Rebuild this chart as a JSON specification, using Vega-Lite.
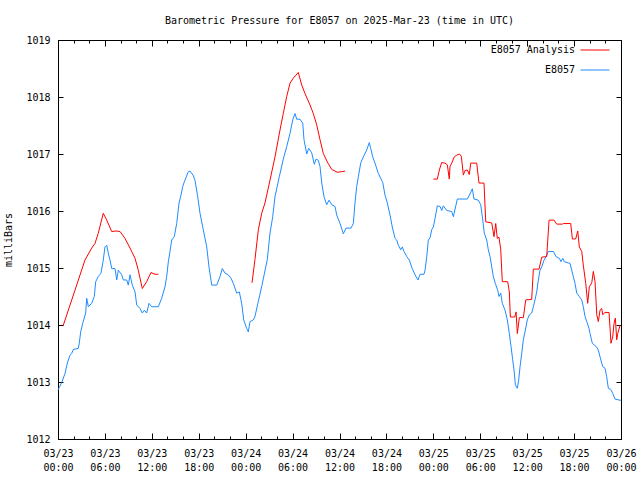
{
"$schema":"https://vega.github.io/schema/vega-lite/v6.json",
"width":563,"height":399,
"autosize":{"type":"none"},
"padding":{"left":58,"top":40,"right":19,"bottom":41},
"background":"white",
"title":{"text":"Barometric Pressure for E8057 on 2025-Mar-23 (time in UTC)","font":"DejaVu Sans Mono","fontSize":10,"fontWeight":"normal","color":"black","offset":9,"anchor":"middle"},
"config":{
 "view":{"stroke":"black","strokeWidth":1},
 "axis":{"grid":false,"domainColor":"black","tickColor":"black","labelColor":"black","titleColor":"black","labelFont":"DejaVu Sans Mono","labelFontSize":10,"titleFont":"DejaVu Sans Mono","titleFontSize":10,"titleFontWeight":"normal","labelFlush":false}
},
"datasets":{
"obs":[
{"series":"E8057","seg":"b","hour":0,"mb":1012.86},{"series":"E8057","seg":"b","hour":0.47,"mb":1012.99},{"series":"E8057","seg":"b","hour":0.9,"mb":1013.15},{"series":"E8057","seg":"b","hour":1.19,"mb":1013.33},{"series":"E8057","seg":"b","hour":1.53,"mb":1013.47},{"series":"E8057","seg":"b","hour":1.75,"mb":1013.5},{"series":"E8057","seg":"b","hour":1.96,"mb":1013.57},{"series":"E8057","seg":"b","hour":2.6,"mb":1013.59},{"series":"E8057","seg":"b","hour":2.72,"mb":1013.68},{"series":"E8057","seg":"b","hour":2.9,"mb":1013.88},
{"series":"E8057","seg":"b","hour":3.16,"mb":1014.03},{"series":"E8057","seg":"b","hour":3.54,"mb":1014.21},{"series":"E8057","seg":"b","hour":3.67,"mb":1014.47},{"series":"E8057","seg":"b","hour":3.88,"mb":1014.32},{"series":"E8057","seg":"b","hour":4.31,"mb":1014.38},{"series":"E8057","seg":"b","hour":4.64,"mb":1014.5},{"series":"E8057","seg":"b","hour":4.82,"mb":1014.76},{"series":"E8057","seg":"b","hour":5.15,"mb":1014.85},{"series":"E8057","seg":"b","hour":5.5,"mb":1014.91},{"series":"E8057","seg":"b","hour":5.79,"mb":1015.14},
{"series":"E8057","seg":"b","hour":6.01,"mb":1015.37},{"series":"E8057","seg":"b","hour":6.23,"mb":1015.4},{"series":"E8057","seg":"b","hour":6.43,"mb":1015.26},{"series":"E8057","seg":"b","hour":6.65,"mb":1015.14},{"series":"E8057","seg":"b","hour":6.87,"mb":1014.99},{"series":"E8057","seg":"b","hour":7.29,"mb":1014.99},{"series":"E8057","seg":"b","hour":7.51,"mb":1014.79},{"series":"E8057","seg":"b","hour":7.71,"mb":1014.96},{"series":"E8057","seg":"b","hour":8.15,"mb":1014.88},{"series":"E8057","seg":"b","hour":8.35,"mb":1014.79},
{"series":"E8057","seg":"b","hour":8.79,"mb":1014.79},{"series":"E8057","seg":"b","hour":8.99,"mb":1014.7},{"series":"E8057","seg":"b","hour":9.21,"mb":1014.88},{"series":"E8057","seg":"b","hour":9.5,"mb":1014.7},{"series":"E8057","seg":"b","hour":9.85,"mb":1014.58},{"series":"E8057","seg":"b","hour":10.07,"mb":1014.35},{"series":"E8057","seg":"b","hour":10.49,"mb":1014.29},{"series":"E8057","seg":"b","hour":10.78,"mb":1014.21},{"series":"E8057","seg":"b","hour":11.04,"mb":1014.26},{"series":"E8057","seg":"b","hour":11.34,"mb":1014.21},
{"series":"E8057","seg":"b","hour":11.64,"mb":1014.38},{"series":"E8057","seg":"b","hour":11.98,"mb":1014.32},{"series":"E8057","seg":"b","hour":12.83,"mb":1014.32},{"series":"E8057","seg":"b","hour":13.26,"mb":1014.47},{"series":"E8057","seg":"b","hour":13.68,"mb":1014.67},{"series":"E8057","seg":"b","hour":13.9,"mb":1014.85},{"series":"E8057","seg":"b","hour":14.11,"mb":1015.11},{"series":"E8057","seg":"b","hour":14.32,"mb":1015.29},{"series":"E8057","seg":"b","hour":14.54,"mb":1015.49},{"series":"E8057","seg":"b","hour":14.87,"mb":1015.55},
{"series":"E8057","seg":"b","hour":15.18,"mb":1015.78},{"series":"E8057","seg":"b","hour":15.48,"mb":1016.14},{"series":"E8057","seg":"b","hour":15.73,"mb":1016.28},{"series":"E8057","seg":"b","hour":15.95,"mb":1016.43},{"series":"E8057","seg":"b","hour":16.15,"mb":1016.51},{"series":"E8057","seg":"b","hour":16.63,"mb":1016.68},{"series":"E8057","seg":"b","hour":16.88,"mb":1016.7},{"series":"E8057","seg":"b","hour":17.27,"mb":1016.63},{"series":"E8057","seg":"b","hour":17.52,"mb":1016.54},{"series":"E8057","seg":"b","hour":17.87,"mb":1016.25},
{"series":"E8057","seg":"b","hour":18.16,"mb":1015.96},{"series":"E8057","seg":"b","hour":18.58,"mb":1015.67},{"series":"E8057","seg":"b","hour":19.02,"mb":1015.37},{"series":"E8057","seg":"b","hour":19.31,"mb":1015.02},{"series":"E8057","seg":"b","hour":19.66,"mb":1014.7},{"series":"E8057","seg":"b","hour":20.3,"mb":1014.7},{"series":"E8057","seg":"b","hour":20.72,"mb":1014.85},{"series":"E8057","seg":"b","hour":21.01,"mb":1014.99},{"series":"E8057","seg":"b","hour":21.36,"mb":1014.91},{"series":"E8057","seg":"b","hour":21.78,"mb":1014.88},
{"series":"E8057","seg":"b","hour":22.13,"mb":1014.82},{"series":"E8057","seg":"b","hour":22.42,"mb":1014.73},{"series":"E8057","seg":"b","hour":22.85,"mb":1014.56},{"series":"E8057","seg":"b","hour":23.19,"mb":1014.58},{"series":"E8057","seg":"b","hour":23.49,"mb":1014.38},{"series":"E8057","seg":"b","hour":23.75,"mb":1014.09},{"series":"E8057","seg":"b","hour":24.13,"mb":1013.94},{"series":"E8057","seg":"b","hour":24.34,"mb":1013.88},{"series":"E8057","seg":"b","hour":24.56,"mb":1014.06},{"series":"E8057","seg":"b","hour":24.98,"mb":1014.09},
{"series":"E8057","seg":"b","hour":25.19,"mb":1014.15},{"series":"E8057","seg":"b","hour":25.58,"mb":1014.39},{"series":"E8057","seg":"b","hour":26.09,"mb":1014.7},{"series":"E8057","seg":"b","hour":26.77,"mb":1015.15},{"series":"E8057","seg":"b","hour":27.11,"mb":1015.61},{"series":"E8057","seg":"b","hour":27.46,"mb":1015.9},{"series":"E8057","seg":"b","hour":27.75,"mb":1016.25},{"series":"E8057","seg":"b","hour":28.3,"mb":1016.6},{"series":"E8057","seg":"b","hour":28.81,"mb":1016.91},{"series":"E8057","seg":"b","hour":29.25,"mb":1017.13},
{"series":"E8057","seg":"b","hour":29.67,"mb":1017.36},{"series":"E8057","seg":"b","hour":30.02,"mb":1017.6},{"series":"E8057","seg":"b","hour":30.31,"mb":1017.71},{"series":"E8057","seg":"b","hour":30.53,"mb":1017.61},{"series":"E8057","seg":"b","hour":30.95,"mb":1017.61},{"series":"E8057","seg":"b","hour":31.3,"mb":1017.54},{"series":"E8057","seg":"b","hour":31.46,"mb":1017.25},{"series":"E8057","seg":"b","hour":31.81,"mb":1017.0},{"series":"E8057","seg":"b","hour":32.06,"mb":1017.1},{"series":"E8057","seg":"b","hour":32.45,"mb":1017.02},
{"series":"E8057","seg":"b","hour":32.78,"mb":1016.82},{"series":"E8057","seg":"b","hour":33.0,"mb":1016.91},{"series":"E8057","seg":"b","hour":33.29,"mb":1016.89},{"series":"E8057","seg":"b","hour":33.51,"mb":1016.78},{"series":"E8057","seg":"b","hour":33.73,"mb":1016.49},{"series":"E8057","seg":"b","hour":34.02,"mb":1016.25},{"series":"E8057","seg":"b","hour":34.37,"mb":1016.11},{"series":"E8057","seg":"b","hour":34.66,"mb":1016.19},{"series":"E8057","seg":"b","hour":35.0,"mb":1016.11},{"series":"E8057","seg":"b","hour":35.43,"mb":1016.08},
{"series":"E8057","seg":"b","hour":35.64,"mb":1015.93},{"series":"E8057","seg":"b","hour":36.07,"mb":1015.78},{"series":"E8057","seg":"b","hour":36.49,"mb":1015.6},{"series":"E8057","seg":"b","hour":36.83,"mb":1015.7},{"series":"E8057","seg":"b","hour":37.47,"mb":1015.7},{"series":"E8057","seg":"b","hour":37.77,"mb":1015.78},{"series":"E8057","seg":"b","hour":37.98,"mb":1016.14},{"series":"E8057","seg":"b","hour":38.2,"mb":1016.43},{"series":"E8057","seg":"b","hour":38.41,"mb":1016.6},{"series":"E8057","seg":"b","hour":38.71,"mb":1016.84},
{"series":"E8057","seg":"b","hour":39.05,"mb":1016.95},{"series":"E8057","seg":"b","hour":39.48,"mb":1017.07},{"series":"E8057","seg":"b","hour":39.81,"mb":1017.2},{"series":"E8057","seg":"b","hour":39.99,"mb":1017.1},{"series":"E8057","seg":"b","hour":40.25,"mb":1016.95},{"series":"E8057","seg":"b","hour":40.54,"mb":1016.84},{"series":"E8057","seg":"b","hour":40.96,"mb":1016.66},{"series":"E8057","seg":"b","hour":41.53,"mb":1016.5},{"series":"E8057","seg":"b","hour":41.82,"mb":1016.28},{"series":"E8057","seg":"b","hour":42.12,"mb":1016.14},
{"series":"E8057","seg":"b","hour":42.46,"mb":1015.93},{"series":"E8057","seg":"b","hour":42.75,"mb":1015.72},{"series":"E8057","seg":"b","hour":43.1,"mb":1015.52},{"series":"E8057","seg":"b","hour":43.32,"mb":1015.49},{"series":"E8057","seg":"b","hour":43.52,"mb":1015.4},{"series":"E8057","seg":"b","hour":43.83,"mb":1015.32},{"series":"E8057","seg":"b","hour":44.03,"mb":1015.37},{"series":"E8057","seg":"b","hour":44.25,"mb":1015.29},{"series":"E8057","seg":"b","hour":44.6,"mb":1015.2},{"series":"E8057","seg":"b","hour":44.93,"mb":1015.14},
{"series":"E8057","seg":"b","hour":45.27,"mb":1015.0},{"series":"E8057","seg":"b","hour":45.66,"mb":1014.88},{"series":"E8057","seg":"b","hour":46.04,"mb":1014.79},{"series":"E8057","seg":"b","hour":46.3,"mb":1014.89},{"series":"E8057","seg":"b","hour":46.81,"mb":1014.89},{"series":"E8057","seg":"b","hour":46.94,"mb":1014.96},{"series":"E8057","seg":"b","hour":47.16,"mb":1015.2},{"series":"E8057","seg":"b","hour":47.36,"mb":1015.49},{"series":"E8057","seg":"b","hour":47.58,"mb":1015.53},{"series":"E8057","seg":"b","hour":47.79,"mb":1015.67},
{"series":"E8057","seg":"b","hour":48.0,"mb":1015.72},{"series":"E8057","seg":"b","hour":48.22,"mb":1015.87},{"series":"E8057","seg":"b","hour":48.51,"mb":1016.09},{"series":"E8057","seg":"b","hour":48.86,"mb":1016.08},{"series":"E8057","seg":"b","hour":49.07,"mb":1016.01},{"series":"E8057","seg":"b","hour":49.28,"mb":1016.09},{"series":"E8057","seg":"b","hour":49.71,"mb":1016.01},{"series":"E8057","seg":"b","hour":50.35,"mb":1015.99},{"series":"E8057","seg":"b","hour":50.56,"mb":1015.9},{"series":"E8057","seg":"b","hour":51.07,"mb":1016.21},
{"series":"E8057","seg":"b","hour":52.35,"mb":1016.21},{"series":"E8057","seg":"b","hour":52.69,"mb":1016.3},{"series":"E8057","seg":"b","hour":52.99,"mb":1016.39},{"series":"E8057","seg":"b","hour":53.2,"mb":1016.21},{"series":"E8057","seg":"b","hour":53.75,"mb":1016.19},{"series":"E8057","seg":"b","hour":54.06,"mb":1016.11},{"series":"E8057","seg":"b","hour":54.32,"mb":1015.84},{"series":"E8057","seg":"b","hour":54.52,"mb":1015.61},{"series":"E8057","seg":"b","hour":54.83,"mb":1015.49},{"series":"E8057","seg":"b","hour":55.03,"mb":1015.32},
{"series":"E8057","seg":"b","hour":55.25,"mb":1015.2},{"series":"E8057","seg":"b","hour":55.47,"mb":1015.02},{"series":"E8057","seg":"b","hour":55.67,"mb":1014.85},{"series":"E8057","seg":"b","hour":55.93,"mb":1014.73},{"series":"E8057","seg":"b","hour":56.23,"mb":1014.61},{"series":"E8057","seg":"b","hour":56.4,"mb":1014.5},{"series":"E8057","seg":"b","hour":56.62,"mb":1014.56},{"series":"E8057","seg":"b","hour":56.82,"mb":1014.38},{"series":"E8057","seg":"b","hour":57.17,"mb":1014.26},{"series":"E8057","seg":"b","hour":57.46,"mb":1014.09},
{"series":"E8057","seg":"b","hour":57.72,"mb":1013.85},{"series":"E8057","seg":"b","hour":57.94,"mb":1013.62},{"series":"E8057","seg":"b","hour":58.15,"mb":1013.39},{"series":"E8057","seg":"b","hour":58.32,"mb":1013.21},{"series":"E8057","seg":"b","hour":58.49,"mb":1012.95},{"series":"E8057","seg":"b","hour":58.74,"mb":1012.89},{"series":"E8057","seg":"b","hour":58.92,"mb":1013.04},{"series":"E8057","seg":"b","hour":59.09,"mb":1013.27},{"series":"E8057","seg":"b","hour":59.3,"mb":1013.5},{"series":"E8057","seg":"b","hour":59.51,"mb":1013.74},
{"series":"E8057","seg":"b","hour":59.77,"mb":1013.91},{"series":"E8057","seg":"b","hour":60.02,"mb":1014.09},{"series":"E8057","seg":"b","hour":60.28,"mb":1014.18},{"series":"E8057","seg":"b","hour":60.58,"mb":1014.21},{"series":"E8057","seg":"b","hour":60.79,"mb":1014.32},{"series":"E8057","seg":"b","hour":61.0,"mb":1014.44},{"series":"E8057","seg":"b","hour":61.22,"mb":1014.58},{"series":"E8057","seg":"b","hour":61.43,"mb":1014.79},{"series":"E8057","seg":"b","hour":61.64,"mb":1014.96},{"series":"E8057","seg":"b","hour":61.86,"mb":1015.02},
{"series":"E8057","seg":"b","hour":62.16,"mb":1015.14},{"series":"E8057","seg":"b","hour":62.41,"mb":1015.2},{"series":"E8057","seg":"b","hour":62.71,"mb":1015.29},{"series":"E8057","seg":"b","hour":63.35,"mb":1015.29},{"series":"E8057","seg":"b","hour":63.69,"mb":1015.2},{"series":"E8057","seg":"b","hour":64.11,"mb":1015.17},{"series":"E8057","seg":"b","hour":64.33,"mb":1015.11},{"series":"E8057","seg":"b","hour":64.55,"mb":1015.17},{"series":"E8057","seg":"b","hour":64.75,"mb":1015.11},{"series":"E8057","seg":"b","hour":65.48,"mb":1015.08},
{"series":"E8057","seg":"b","hour":65.7,"mb":1014.96},{"series":"E8057","seg":"b","hour":65.9,"mb":1014.85},{"series":"E8057","seg":"b","hour":66.12,"mb":1014.73},{"series":"E8057","seg":"b","hour":66.34,"mb":1014.56},{"series":"E8057","seg":"b","hour":66.67,"mb":1014.5},{"series":"E8057","seg":"b","hour":66.98,"mb":1014.44},{"series":"E8057","seg":"b","hour":67.18,"mb":1014.32},{"series":"E8057","seg":"b","hour":67.4,"mb":1014.15},{"series":"E8057","seg":"b","hour":67.62,"mb":1014.06},{"series":"E8057","seg":"b","hour":67.91,"mb":1013.94},
{"series":"E8057","seg":"b","hour":68.04,"mb":1013.85},{"series":"E8057","seg":"b","hour":68.33,"mb":1013.68},{"series":"E8057","seg":"b","hour":68.9,"mb":1013.61},{"series":"E8057","seg":"b","hour":69.1,"mb":1013.56},{"series":"E8057","seg":"b","hour":69.32,"mb":1013.44},{"series":"E8057","seg":"b","hour":69.66,"mb":1013.27},{"series":"E8057","seg":"b","hour":69.96,"mb":1013.24},{"series":"E8057","seg":"b","hour":70.17,"mb":1013.09},{"series":"E8057","seg":"b","hour":70.38,"mb":1012.89},{"series":"E8057","seg":"b","hour":70.69,"mb":1012.87},
{"series":"E8057","seg":"b","hour":70.94,"mb":1012.8},{"series":"E8057","seg":"b","hour":71.24,"mb":1012.7},{"series":"E8057","seg":"b","hour":71.88,"mb":1012.68},{"series":"E8057","seg":"b","hour":72,"mb":1012.68}
],
"analysis":[
{"series":"E8057 Analysis","seg":"r1","hour":0.64,"mb":1013.98},{"series":"E8057 Analysis","seg":"r1","hour":2.17,"mb":1014.61},{"series":"E8057 Analysis","seg":"r1","hour":3.45,"mb":1015.14},{"series":"E8057 Analysis","seg":"r1","hour":4.31,"mb":1015.35},{"series":"E8057 Analysis","seg":"r1","hour":4.73,"mb":1015.43},{"series":"E8057 Analysis","seg":"r1","hour":5.15,"mb":1015.61},{"series":"E8057 Analysis","seg":"r1","hour":5.79,"mb":1015.96},{"series":"E8057 Analysis","seg":"r1","hour":6.23,"mb":1015.84},{"series":"E8057 Analysis","seg":"r1","hour":6.87,"mb":1015.64},{"series":"E8057 Analysis","seg":"r1","hour":7.42,"mb":1015.65},
{"series":"E8057 Analysis","seg":"r1","hour":7.93,"mb":1015.64},{"series":"E8057 Analysis","seg":"r1","hour":8.57,"mb":1015.52},{"series":"E8057 Analysis","seg":"r1","hour":9.21,"mb":1015.35},{"series":"E8057 Analysis","seg":"r1","hour":9.85,"mb":1015.17},{"series":"E8057 Analysis","seg":"r1","hour":10.27,"mb":1014.96},{"series":"E8057 Analysis","seg":"r1","hour":10.78,"mb":1014.64},{"series":"E8057 Analysis","seg":"r1","hour":11.34,"mb":1014.76},{"series":"E8057 Analysis","seg":"r1","hour":11.89,"mb":1014.92},{"series":"E8057 Analysis","seg":"r1","hour":12.41,"mb":1014.89},{"series":"E8057 Analysis","seg":"r1","hour":12.83,"mb":1014.89},
{"series":"E8057 Analysis","seg":"r2","hour":24.81,"mb":1014.74},{"series":"E8057 Analysis","seg":"r2","hour":25.19,"mb":1015.15},{"series":"E8057 Analysis","seg":"r2","hour":25.62,"mb":1015.67},{"series":"E8057 Analysis","seg":"r2","hour":26.05,"mb":1015.96},{"series":"E8057 Analysis","seg":"r2","hour":26.47,"mb":1016.14},{"series":"E8057 Analysis","seg":"r2","hour":27.11,"mb":1016.54},{"series":"E8057 Analysis","seg":"r2","hour":27.75,"mb":1016.95},{"series":"E8057 Analysis","seg":"r2","hour":28.39,"mb":1017.42},{"series":"E8057 Analysis","seg":"r2","hour":28.81,"mb":1017.71},{"series":"E8057 Analysis","seg":"r2","hour":29.25,"mb":1018.01},
{"series":"E8057 Analysis","seg":"r2","hour":29.67,"mb":1018.24},{"series":"E8057 Analysis","seg":"r2","hour":30.09,"mb":1018.33},{"series":"E8057 Analysis","seg":"r2","hour":30.73,"mb":1018.43},{"series":"E8057 Analysis","seg":"r2","hour":31.17,"mb":1018.21},{"series":"E8057 Analysis","seg":"r2","hour":31.59,"mb":1018.06},{"series":"E8057 Analysis","seg":"r2","hour":32.23,"mb":1017.86},{"series":"E8057 Analysis","seg":"r2","hour":32.65,"mb":1017.71},{"series":"E8057 Analysis","seg":"r2","hour":33.09,"mb":1017.51},{"series":"E8057 Analysis","seg":"r2","hour":33.51,"mb":1017.25},{"series":"E8057 Analysis","seg":"r2","hour":33.93,"mb":1017.01},
{"series":"E8057 Analysis","seg":"r2","hour":34.44,"mb":1016.86},{"series":"E8057 Analysis","seg":"r2","hour":35.0,"mb":1016.73},{"series":"E8057 Analysis","seg":"r2","hour":35.72,"mb":1016.68},{"series":"E8057 Analysis","seg":"r2","hour":36.28,"mb":1016.69},{"series":"E8057 Analysis","seg":"r2","hour":36.71,"mb":1016.7},
{"series":"E8057 Analysis","seg":"r3","hour":48.0,"mb":1016.56},{"series":"E8057 Analysis","seg":"r3","hour":48.51,"mb":1016.56},{"series":"E8057 Analysis","seg":"r3","hour":48.77,"mb":1016.72},{"series":"E8057 Analysis","seg":"r3","hour":49.07,"mb":1016.85},{"series":"E8057 Analysis","seg":"r3","hour":49.49,"mb":1016.84},{"series":"E8057 Analysis","seg":"r3","hour":49.79,"mb":1016.81},{"series":"E8057 Analysis","seg":"r3","hour":50.04,"mb":1016.56},{"series":"E8057 Analysis","seg":"r3","hour":50.13,"mb":1016.78},{"series":"E8057 Analysis","seg":"r3","hour":50.35,"mb":1016.84},{"series":"E8057 Analysis","seg":"r3","hour":50.68,"mb":1016.95},
{"series":"E8057 Analysis","seg":"r3","hour":50.99,"mb":1016.98},{"series":"E8057 Analysis","seg":"r3","hour":51.32,"mb":1017.0},{"series":"E8057 Analysis","seg":"r3","hour":51.58,"mb":1016.96},{"series":"E8057 Analysis","seg":"r3","hour":51.84,"mb":1016.63},{"series":"E8057 Analysis","seg":"r3","hour":52.05,"mb":1016.71},{"series":"E8057 Analysis","seg":"r3","hour":52.35,"mb":1016.72},{"series":"E8057 Analysis","seg":"r3","hour":52.6,"mb":1016.64},{"series":"E8057 Analysis","seg":"r3","hour":52.78,"mb":1016.84},{"series":"E8057 Analysis","seg":"r3","hour":53.55,"mb":1016.84},{"series":"E8057 Analysis","seg":"r3","hour":53.84,"mb":1016.49},
{"series":"E8057 Analysis","seg":"r3","hour":54.48,"mb":1016.49},{"series":"E8057 Analysis","seg":"r3","hour":54.7,"mb":1015.81},{"series":"E8057 Analysis","seg":"r3","hour":55.47,"mb":1015.79},{"series":"E8057 Analysis","seg":"r3","hour":55.76,"mb":1015.55},{"series":"E8057 Analysis","seg":"r3","hour":55.98,"mb":1015.78},{"series":"E8057 Analysis","seg":"r3","hour":56.18,"mb":1015.52},{"series":"E8057 Analysis","seg":"r3","hour":56.4,"mb":1015.54},{"series":"E8057 Analysis","seg":"r3","hour":56.62,"mb":1015.32},{"series":"E8057 Analysis","seg":"r3","hour":56.82,"mb":1014.76},{"series":"E8057 Analysis","seg":"r3","hour":57.51,"mb":1014.76},
{"series":"E8057 Analysis","seg":"r3","hour":57.72,"mb":1014.58},{"series":"E8057 Analysis","seg":"r3","hour":57.85,"mb":1014.14},{"series":"E8057 Analysis","seg":"r3","hour":58.41,"mb":1014.14},{"series":"E8057 Analysis","seg":"r3","hour":58.58,"mb":1014.23},{"series":"E8057 Analysis","seg":"r3","hour":58.74,"mb":1013.85},{"series":"E8057 Analysis","seg":"r3","hour":59.0,"mb":1014.13},{"series":"E8057 Analysis","seg":"r3","hour":59.51,"mb":1014.13},{"series":"E8057 Analysis","seg":"r3","hour":59.82,"mb":1014.44},{"series":"E8057 Analysis","seg":"r3","hour":60.58,"mb":1014.45},{"series":"E8057 Analysis","seg":"r3","hour":60.79,"mb":1014.98},
{"series":"E8057 Analysis","seg":"r3","hour":61.52,"mb":1014.98},{"series":"E8057 Analysis","seg":"r3","hour":61.86,"mb":1015.19},{"series":"E8057 Analysis","seg":"r3","hour":62.5,"mb":1015.2},{"series":"E8057 Analysis","seg":"r3","hour":62.8,"mb":1015.84},{"series":"E8057 Analysis","seg":"r3","hour":63.43,"mb":1015.84},{"series":"E8057 Analysis","seg":"r3","hour":63.78,"mb":1015.77},{"series":"E8057 Analysis","seg":"r3","hour":64.55,"mb":1015.77},{"series":"E8057 Analysis","seg":"r3","hour":64.62,"mb":1015.78},{"series":"E8057 Analysis","seg":"r3","hour":65.57,"mb":1015.78},{"series":"E8057 Analysis","seg":"r3","hour":65.78,"mb":1015.51},
{"series":"E8057 Analysis","seg":"r3","hour":66.21,"mb":1015.51},{"series":"E8057 Analysis","seg":"r3","hour":66.47,"mb":1015.65},{"series":"E8057 Analysis","seg":"r3","hour":66.67,"mb":1015.37},{"series":"E8057 Analysis","seg":"r3","hour":66.98,"mb":1015.29},{"series":"E8057 Analysis","seg":"r3","hour":67.18,"mb":1015.05},{"series":"E8057 Analysis","seg":"r3","hour":67.49,"mb":1014.73},{"series":"E8057 Analysis","seg":"r3","hour":67.74,"mb":1014.38},{"series":"E8057 Analysis","seg":"r3","hour":67.95,"mb":1014.67},{"series":"E8057 Analysis","seg":"r3","hour":68.26,"mb":1014.74},{"series":"E8057 Analysis","seg":"r3","hour":68.46,"mb":1014.94},
{"series":"E8057 Analysis","seg":"r3","hour":68.68,"mb":1014.76},{"series":"E8057 Analysis","seg":"r3","hour":68.9,"mb":1014.18},{"series":"E8057 Analysis","seg":"r3","hour":69.1,"mb":1014.06},{"series":"E8057 Analysis","seg":"r3","hour":69.32,"mb":1014.26},{"series":"E8057 Analysis","seg":"r3","hour":69.54,"mb":1014.29},{"series":"E8057 Analysis","seg":"r3","hour":69.66,"mb":1014.18},{"series":"E8057 Analysis","seg":"r3","hour":69.96,"mb":1014.22},{"series":"E8057 Analysis","seg":"r3","hour":70.47,"mb":1014.22},{"series":"E8057 Analysis","seg":"r3","hour":70.72,"mb":1013.68},{"series":"E8057 Analysis","seg":"r3","hour":70.94,"mb":1013.79},
{"series":"E8057 Analysis","seg":"r3","hour":71.11,"mb":1014.03},{"series":"E8057 Analysis","seg":"r3","hour":71.28,"mb":1014.12},{"series":"E8057 Analysis","seg":"r3","hour":71.45,"mb":1013.74},{"series":"E8057 Analysis","seg":"r3","hour":71.58,"mb":1013.85},{"series":"E8057 Analysis","seg":"r3","hour":71.9,"mb":1014.0}
]
},
"layer":[
{
 "data":{"name":"obs"},
 "mark":{"type":"line","strokeWidth":1},
 "encoding":{
  "x":{"field":"hour","type":"quantitative","scale":{"domain":[0,72],"nice":false,"zero":false},
   "axis":{"orient":"bottom","title":null,"values":[0,2,4,6,8,10,12,14,16,18,20,22,24,26,28,30,32,34,36,38,40,42,44,46,48,50,52,54,56,58,60,62,64,66,68,70,72],
    "tickSize":{"condition":{"test":"datum.value % 6 == 0","value":-6},"value":-3},
    "labelPadding":15,"labelLineHeight":14,"labelBaseline":"top","labelOverlap":false,"labelFlush":false,
    "labelExpr":"datum.value % 6 == 0 ? ['03/' + (23 + floor(datum.value / 24)), (datum.value % 24 < 10 ? '0' : '') + (datum.value % 24) + ':00'] : ''"}},
  "y":{"field":"mb","type":"quantitative","scale":{"domain":[1012,1019],"nice":false,"zero":false},
   "axis":{"orient":"left","title":"milliBars","values":[1012,1013,1014,1015,1016,1017,1018,1019],"format":"d","tickSize":-5,"labelPadding":13,"titlePadding":12,"labelFlush":false}},
  "color":{"field":"series","type":"nominal","scale":{"domain":["E8057 Analysis","E8057"],"range":["#ff0000","#1e8cff"]},
   "legend":{"orient":"none","legendX":522,"legendY":-5,"title":null,"symbolType":"stroke","symbolSize":841,"symbolStrokeWidth":1,"labelAlign":"right","labelOffset":-35,"labelFont":"DejaVu Sans Mono","labelFontSize":10,"labelColor":"black","rowPadding":-23,"padding":0,"labelLimit":0}},
  "detail":{"field":"seg"}
 }
},
{
 "data":{"name":"analysis"},
 "mark":{"type":"line","strokeWidth":1,"color":"#ff0000"},
 "encoding":{
  "x":{"field":"hour","type":"quantitative",
   "axis":{"orient":"top","title":null,"labels":false,"values":[0,2,4,6,8,10,12,14,16,18,20,22,24,26,28,30,32,34,36,38,40,42,44,46,48,50,52,54,56,58,60,62,64,66,68,70,72],
    "tickSize":{"condition":{"test":"datum.value % 6 == 0","value":-6},"value":-3}}},
  "y":{"field":"mb","type":"quantitative",
   "axis":{"orient":"right","title":null,"labels":false,"values":[1012,1013,1014,1015,1016,1017,1018,1019],"tickSize":-5}},
  "detail":{"field":"seg"}
 }
}
],
"resolve":{"axis":{"x":"independent","y":"independent"}}
}
